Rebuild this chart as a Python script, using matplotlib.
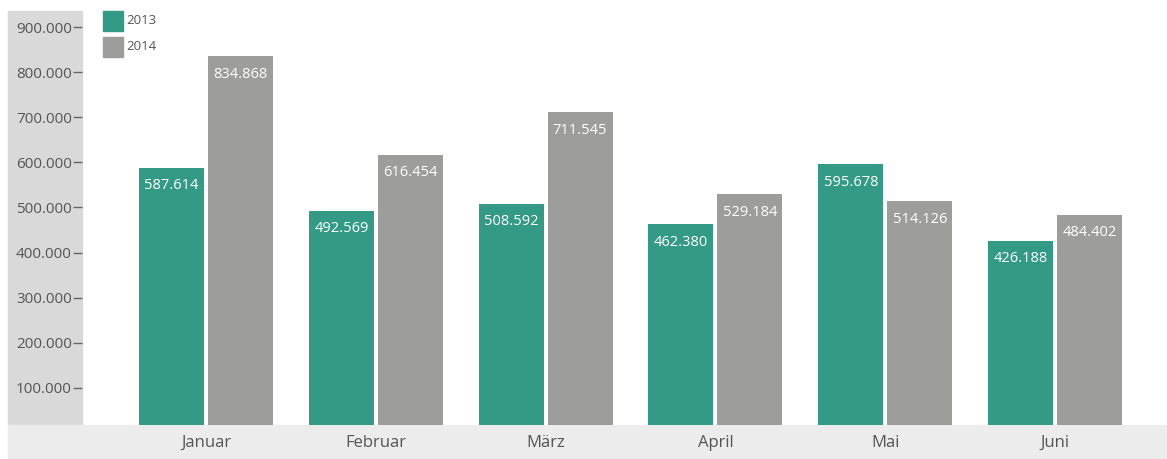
import matplotlib.pyplot as plt
from matplotlib.patches import Rectangle
import numpy as np

months = ["Januar", "Februar", "März", "April", "Mai", "Juni"]
values_2013 = [587614, 492569, 508592, 462380, 595678, 426188]
values_2014 = [834868, 616454, 711545, 529184, 514126, 484402]
series = ["2013", "2014"]
colors = ["#339a85", "#9d9d9b"]
yticks = [100000, 200000, 300000, 400000, 500000, 600000, 700000, 800000, 900000]

W, H = 1167, 459
plt.rcParams['font.family'] = ['Open Sans', 'DejaVu Sans']
fig = plt.figure(figsize=(W / 100, H / 100), dpi=100)


def box(x0, y0, x1, y1):
    # pixel box (top-left origin) -> figure fraction rect
    return [x0 / W, 1 - y1 / H, (x1 - x0) / W, (y1 - y0) / H]


# background bands
fig.add_artist(Rectangle((8 / W, 1 - 425 / H), (82 - 8) / W, (425 - 11) / H,
                         transform=fig.transFigure, color="#d9d9d9", zorder=0))
fig.add_artist(Rectangle((8 / W, 0), (W - 8) / W, (459 - 425) / H,
                         transform=fig.transFigure, color="#ececec", zorder=0))

ax = fig.add_axes(box(82, 11, W, 425))
ax.patch.set_alpha(0)

x = np.arange(len(months))
bw = 0.383
off = 0.203
b1 = ax.bar(x - off, values_2013, bw, color=colors[0], zorder=2)
b2 = ax.bar(x + off, values_2014, bw, color=colors[1], zorder=2)


def fmt(v):
    return f"{v:,}".replace(",", ".")


for bars, vals in ((b1, values_2013), (b2, values_2014)):
    for r, v in zip(bars, vals):
        ax.annotate(fmt(v), (r.get_x() + r.get_width() / 2, v),
                    xytext=(0, -18), textcoords="offset pixels",
                    ha="center", va="center", color="white", fontsize=10.5, zorder=3)

ax.set_xlim(-0.730, 5.659)
ax.set_ylim(17700, 935700)
ax.set_yticks(yticks)
ax.set_yticklabels([fmt(v) for v in yticks])
ax.set_xticks(x)
ax.set_xticklabels(months)
ax.tick_params(axis="y", direction="out", length=6.5, width=1, color="#666666",
               labelcolor="#555555", labelsize=11, pad=0.8)
ax.tick_params(axis="x", length=0, labelcolor="#555555", labelsize=12, pad=7)
for s in ax.spines.values():
    s.set_visible(False)

# legend
for i, (name, c) in enumerate(zip(series, colors)):
    y0 = 11 + i * 26
    fig.add_artist(Rectangle((103 / W, 1 - (y0 + 20) / H), 20 / W, 20 / H,
                             transform=fig.transFigure, color=c))
    fig.text(126 / W, 1 - (y0 + 10) / H, name, fontsize=9.5, color="#555555",
             va="center", ha="left")

fig.savefig("out.png", dpi=100)
